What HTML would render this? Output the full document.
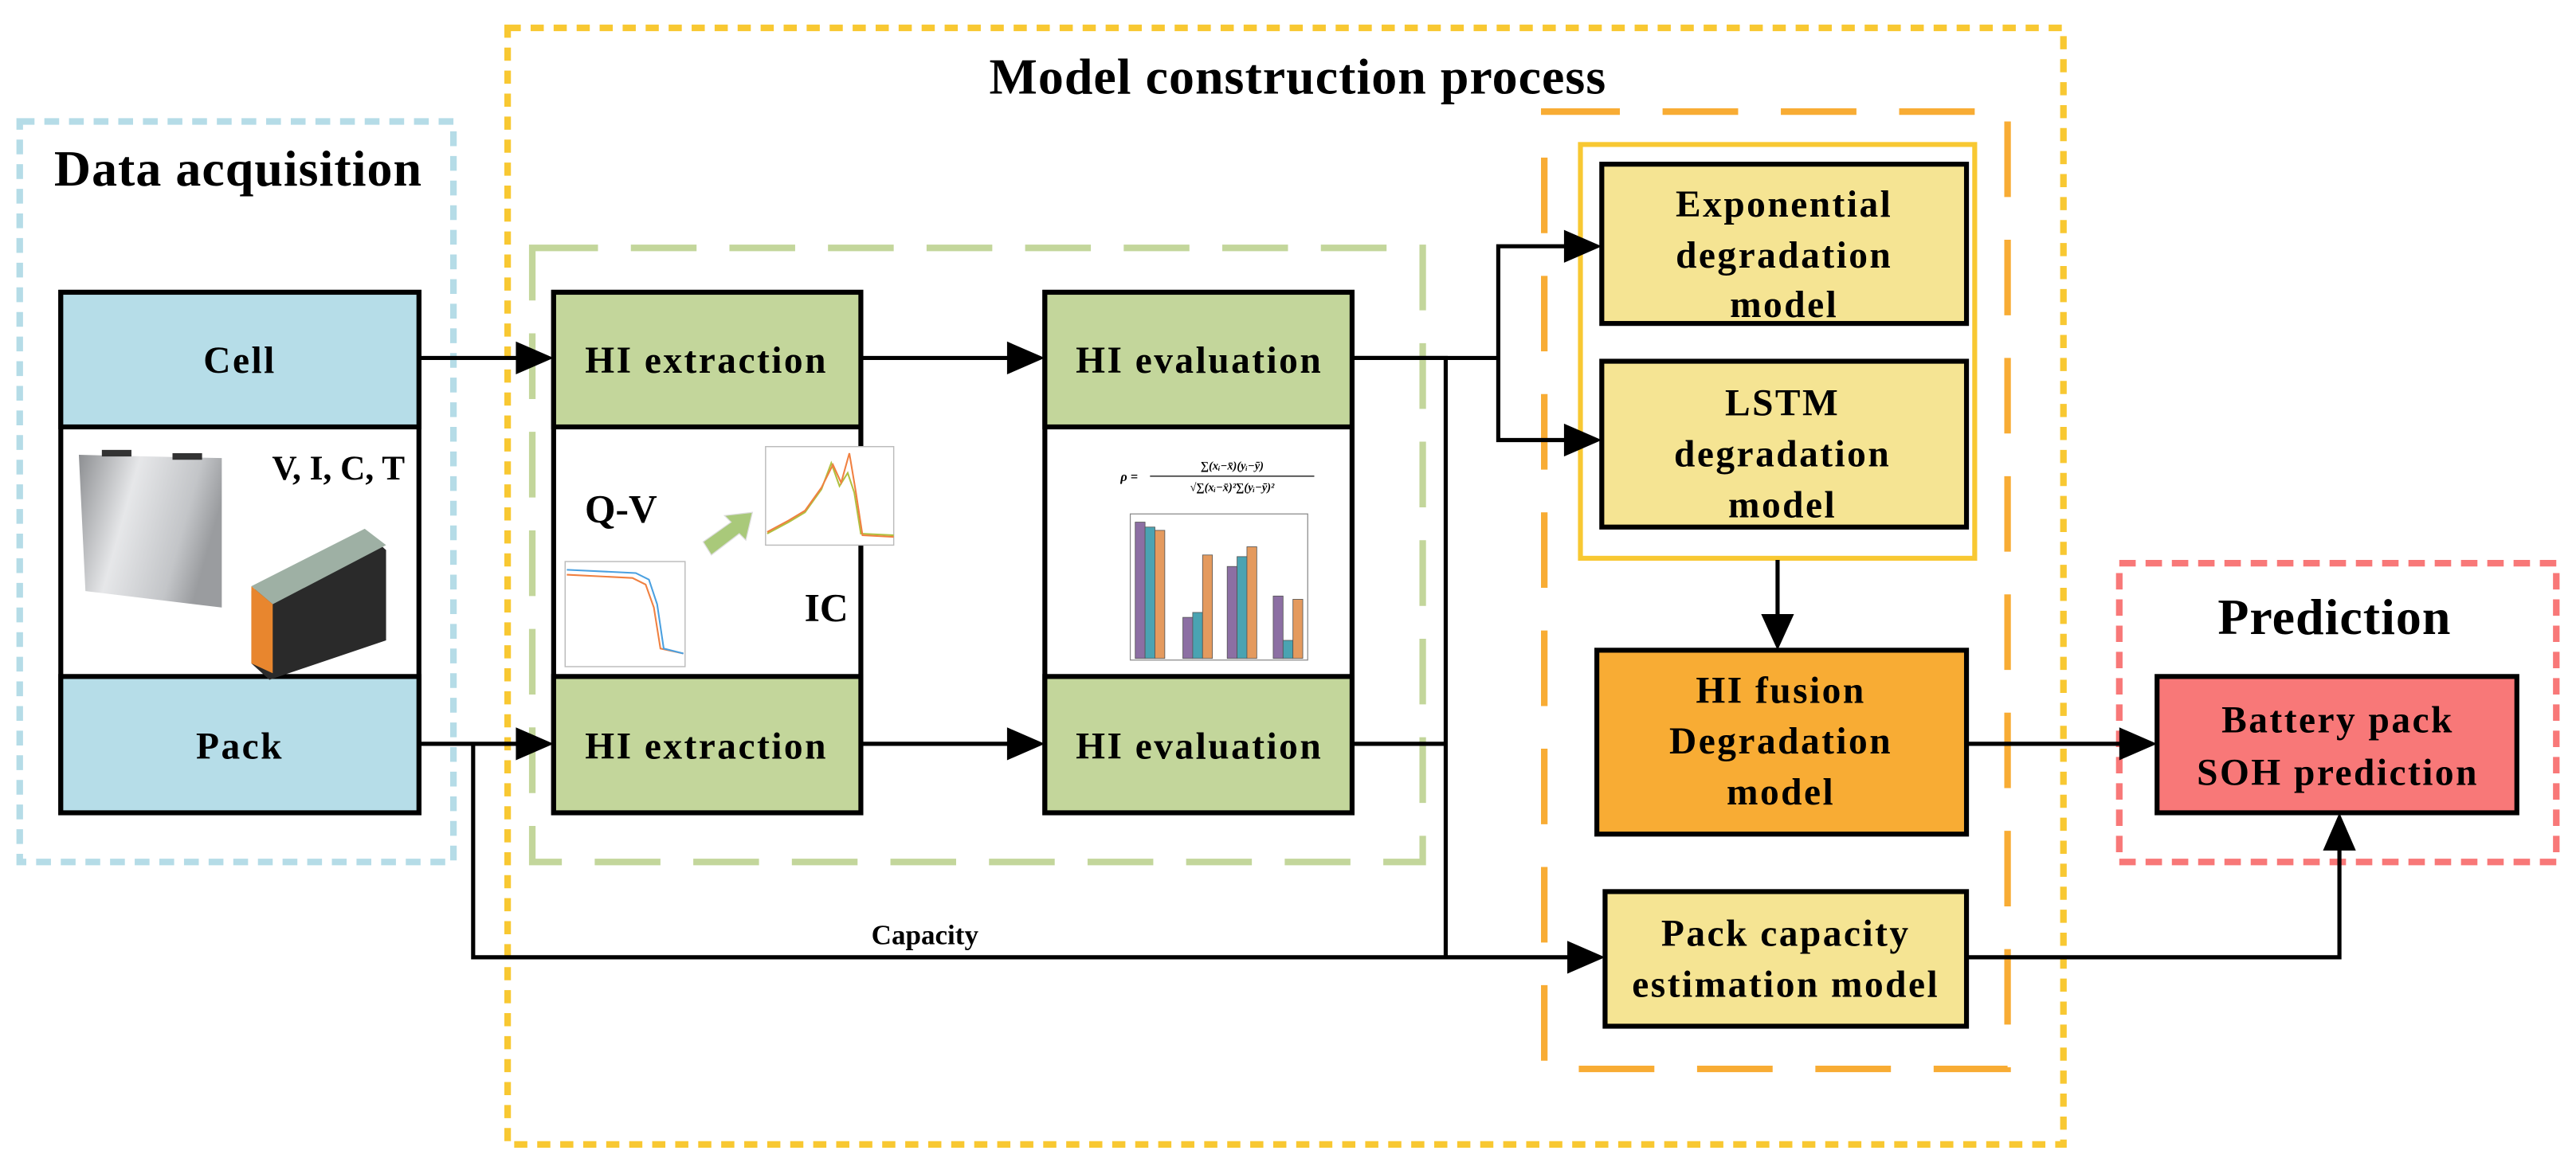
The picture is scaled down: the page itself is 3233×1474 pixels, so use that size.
<!DOCTYPE html>
<html><head><meta charset="utf-8"><style>
html,body{margin:0;padding:0;background:#fff}
svg{display:block}
text{font-family:"Liberation Serif",serif;font-weight:bold;fill:#000}
.b{font-size:23px;letter-spacing:1.2px}
.t{font-size:31px;letter-spacing:0.5px}
</style></head><body>
<svg width="3233" height="1474" viewBox="0 0 1568 715" preserveAspectRatio="none" xmlns="http://www.w3.org/2000/svg">
<defs>
<linearGradient id="cellg" x1="0" y1="0" x2="1" y2="0.3"><stop offset="0" stop-color="#8d8f92"/><stop offset="0.4" stop-color="#e6e7e9"/><stop offset="0.8" stop-color="#c3c5c8"/><stop offset="1" stop-color="#9a9c9f"/></linearGradient>
</defs>

<rect x="12" y="74" width="264" height="451" fill="none" stroke="#b5dce7" stroke-width="4" stroke-dasharray="9,6"/>
<rect x="309" y="17" width="947" height="680" fill="none" stroke="#f8c832" stroke-width="4" stroke-dasharray="8,6"/>
<rect x="324" y="151" width="542" height="374" fill="none" stroke="#c3d69b" stroke-width="4" stroke-dasharray="40,20"/>
<rect x="940" y="68" width="282" height="583" fill="none" stroke="#f8ac34" stroke-width="4" stroke-dasharray="46,26"/>
<rect x="1290" y="343" width="266" height="182" fill="none" stroke="#f87878" stroke-width="4" stroke-dasharray="10,6"/>

<text x="145" y="113" class="t" text-anchor="middle">Data acquisition</text>
<text x="790" y="57" class="t" text-anchor="middle">Model construction process</text>
<text x="1421" y="386" class="t" text-anchor="middle">Prediction</text>

<rect x="37" y="178" width="218" height="317" fill="#fff" stroke="#000" stroke-width="3"/>
<rect x="37" y="178" width="218" height="82" fill="#b6dde8" stroke="#000" stroke-width="3"/>
<rect x="37" y="412" width="218" height="83" fill="#b6dde8" stroke="#000" stroke-width="3"/>
<text x="146" y="227" class="b" text-anchor="middle">Cell</text>
<text x="146" y="462" class="b" text-anchor="middle">Pack</text>
<text x="206" y="292" font-size="21" text-anchor="middle">V, I, C, T</text>
<polygon points="48,277 135,279 135,370 52,360" fill="url(#cellg)"/>
<rect x="62" y="274" width="18" height="4" fill="#333"/><rect x="105" y="276" width="18" height="4" fill="#333"/>
<polygon points="153,360 224,325 235,335 235,390 164,414 153,404" fill="#2a2a2a"/>
<polygon points="153,357 222,322 235,332 166,368" fill="#9eb0a4"/>
<polygon points="153,357 166,368 166,410 153,404" fill="#e8862e"/>

<rect x="337" y="178" width="187" height="317" fill="#fff" stroke="#000" stroke-width="3"/>
<rect x="337" y="178" width="187" height="82" fill="#c3d69b" stroke="#000" stroke-width="3"/>
<rect x="337" y="412" width="187" height="83" fill="#c3d69b" stroke="#000" stroke-width="3"/>
<text x="430" y="227" class="b" text-anchor="middle">HI extraction</text>
<text x="430" y="462" class="b" text-anchor="middle">HI extraction</text>
<text x="378" y="318" font-size="24" text-anchor="middle">Q-V</text>
<text x="503" y="378" font-size="24" text-anchor="middle">IC</text>
<rect x="344" y="342" width="73" height="64" fill="#fff" stroke="#bbb" stroke-width="0.7"/>
<polyline points="345,350 385,352 393,356 398,370 402,395 416,398" fill="none" stroke="#f08040" stroke-width="1"/>
<polyline points="345,347 387,349 395,353 400,368 404,395 416,398" fill="none" stroke="#4aa0e0" stroke-width="1"/>
<rect x="466" y="272" width="78" height="60" fill="#fff" stroke="#bbb" stroke-width="0.7"/>
<polyline points="467,325 480,318 490,312 500,298 506,282 511,296 516,288 520,300 524,325 544,326" fill="none" stroke="#b0c040" stroke-width="1"/>
<polyline points="467,324 480,317 490,311 500,297 507,283 512,294 517,276 521,300 525,326 544,327" fill="none" stroke="#f08040" stroke-width="1"/>
<polygon points="428,330 445,318 441,314 458,312 454,329 450,325 433,338" fill="#a9c97a" stroke="#ddd" stroke-width="0.6"/>

<rect x="636" y="178" width="187" height="317" fill="#fff" stroke="#000" stroke-width="3"/>
<rect x="636" y="178" width="187" height="82" fill="#c3d69b" stroke="#000" stroke-width="3"/>
<rect x="636" y="412" width="187" height="83" fill="#c3d69b" stroke="#000" stroke-width="3"/>
<text x="730" y="227" class="b" text-anchor="middle">HI evaluation</text>
<text x="730" y="462" class="b" text-anchor="middle">HI evaluation</text>
<text x="682" y="293" font-size="8" font-weight="normal" font-style="italic">ρ =</text>
<line x1="700" y1="290" x2="800" y2="290" stroke="#000" stroke-width="0.6"/>
<text x="750" y="286" font-size="7" font-weight="normal" font-style="italic" text-anchor="middle">∑(xᵢ−x̄)(yᵢ−ȳ)</text>
<text x="750" y="299" font-size="7" font-weight="normal" font-style="italic" text-anchor="middle">√∑(xᵢ−x̄)²∑(yᵢ−ȳ)²</text>
<rect x="688" y="313" width="108" height="89" fill="#fff" stroke="#888" stroke-width="0.6"/>
<g stroke="#555" stroke-width="0.4">
<rect x="691" y="318" width="6" height="83" fill="#8c6fa3"/><rect x="697" y="321" width="6" height="80" fill="#4aa3b2"/><rect x="703" y="323" width="6" height="78" fill="#e49a5e"/>
<rect x="720" y="376" width="6" height="25" fill="#8c6fa3"/><rect x="726" y="373" width="6" height="28" fill="#4aa3b2"/><rect x="732" y="338" width="6" height="63" fill="#e49a5e"/>
<rect x="747" y="345" width="6" height="56" fill="#8c6fa3"/><rect x="753" y="339" width="6" height="62" fill="#4aa3b2"/><rect x="759" y="333" width="6" height="68" fill="#e49a5e"/>
<rect x="775" y="363" width="6" height="38" fill="#8c6fa3"/><rect x="781" y="390" width="6" height="11" fill="#4aa3b2"/><rect x="787" y="365" width="6" height="36" fill="#e49a5e"/>
</g>

<rect x="962" y="88" width="240" height="252" fill="none" stroke="#f8c832" stroke-width="3"/>
<rect x="975" y="100" width="222" height="97" fill="#f5e493" stroke="#000" stroke-width="3"/>
<text class="b" text-anchor="middle"><tspan x="1086" y="132">Exponential</tspan><tspan x="1086" y="163">degradation</tspan><tspan x="1086" y="193">model</tspan></text>
<rect x="975" y="220" width="222" height="101" fill="#f5e493" stroke="#000" stroke-width="3"/>
<text class="b" text-anchor="middle"><tspan x="1085" y="253">LSTM</tspan><tspan x="1085" y="284">degradation</tspan><tspan x="1085" y="315">model</tspan></text>
<rect x="972" y="396" width="225" height="112" fill="#f8ac34" stroke="#000" stroke-width="3"/>
<text class="b" text-anchor="middle"><tspan x="1084" y="428">HI fusion</tspan><tspan x="1084" y="459">Degradation</tspan><tspan x="1084" y="490">model</tspan></text>
<rect x="977" y="543" width="220" height="82" fill="#f5e493" stroke="#000" stroke-width="3"/>
<text class="b" text-anchor="middle"><tspan x="1087" y="576">Pack capacity</tspan><tspan x="1087" y="607">estimation model</tspan></text>
<rect x="1313" y="412" width="219" height="83" fill="#f87878" stroke="#000" stroke-width="3"/>
<text class="b" text-anchor="middle"><tspan x="1423" y="446">Battery pack</tspan><tspan x="1423" y="478">SOH prediction</tspan></text>

<g stroke="#000" stroke-width="2.5" fill="none">
<line x1="255" y1="218" x2="316" y2="218"/>
<line x1="524" y1="218" x2="615" y2="218"/>
<line x1="255" y1="453" x2="316" y2="453"/>
<line x1="524" y1="453" x2="615" y2="453"/>
<polyline points="823,218 912,218"/>
<polyline points="954,150 912,150 912,268 954,268"/>
<polyline points="823,218 880,218 880,583"/>
<polyline points="823,453 880,453"/>
<polyline points="288,453 288,583 956,583"/>
<line x1="1082" y1="341" x2="1082" y2="376"/>
<line x1="1197" y1="453" x2="1292" y2="453"/>
<polyline points="1197,583 1424,583 1424,516"/>
</g>
<g fill="#000">
<polygon points="337,218 314,208 314,228"/>
<polygon points="636,218 613,208 613,228"/>
<polygon points="337,453 314,443 314,463"/>
<polygon points="636,453 613,443 613,463"/>
<polygon points="975,150 952,140 952,160"/>
<polygon points="975,268 952,258 952,278"/>
<polygon points="977,583 954,573 954,593"/>
<polygon points="1082,396 1072,374 1092,374"/>
<polygon points="1313,453 1290,443 1290,463"/>
<polygon points="1424,495 1414,518 1434,518"/>
</g>
<text x="563" y="575" font-size="17" text-anchor="middle">Capacity</text>
</svg>
</body></html>
